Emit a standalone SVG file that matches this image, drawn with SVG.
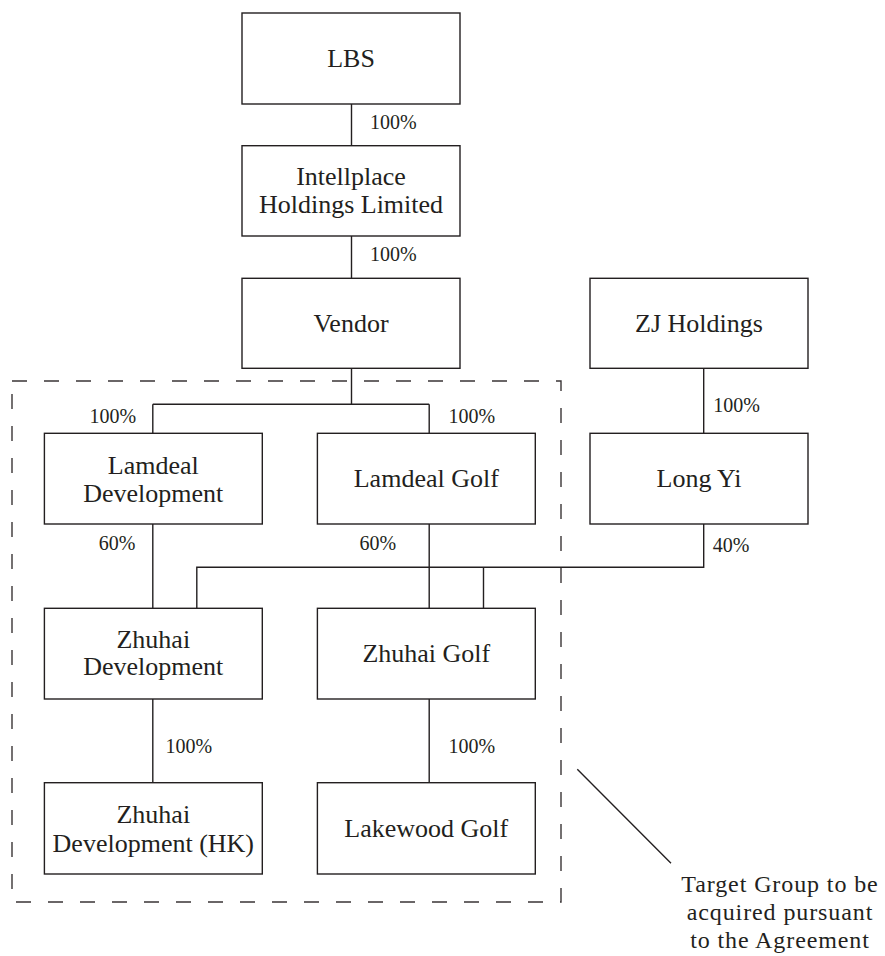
<svg xmlns="http://www.w3.org/2000/svg" width="885" height="956" viewBox="0 0 885 956">
<style>
.box{fill:#fff;stroke:#231f20;stroke-width:1.4}
.n{font-family:"Liberation Serif","Times New Roman",serif;font-size:26px;fill:#231f20;text-anchor:middle}
.t{font-family:"Liberation Serif","Times New Roman",serif;font-size:24px;letter-spacing:0.9px;fill:#231f20;text-anchor:middle}
.p{font-family:"Liberation Serif","Times New Roman",serif;font-size:20px;fill:#231f20}
.c{fill:none;stroke:#231f20;stroke-width:1.4}
.dash{fill:none;stroke:#3a3536;stroke-width:1.4;stroke-dasharray:15 17}
</style>
<rect width="885" height="956" fill="#fff"/>
<g id="target-boundary">
<rect class="dash" x="12" y="381" width="549" height="521"/>
</g>
<g id="connectors">
<path class="c" d="M351.5 104V145.7M351.5 236V278.3M351.5 368.3V404.3M152.8 404.3H429.2M152.8 404.3V433.3M429.2 404.3V433.3M152.8 524V608.3M429.2 524V608.3M703.7 368.3V433.3M703.7 524V567.3H196.8V608.3M483.5 567.3V608.3M152.8 699V782.7M429.2 699V782.7M577.3 769.3L671 863.3"/>
</g>
<g id="labels">
<text class="p" x="370" y="129">100%</text>
<text class="p" x="370" y="261">100%</text>
<text class="p" x="89.5" y="423.3">100%</text>
<text class="p" x="448.4" y="423.3">100%</text>
<text class="p" x="713.3" y="412">100%</text>
<text class="p" x="98.8" y="550">60%</text>
<text class="p" x="359.6" y="550">60%</text>
<text class="p" x="712.7" y="551.7">40%</text>
<text class="p" x="165.4" y="753.3">100%</text>
<text class="p" x="448.4" y="753.3">100%</text>
</g>
<g id="lbs"><rect class="box" x="242" y="13" width="218" height="91"/><text class="n" x="351" y="67">LBS</text></g>
<g id="intellplace"><rect class="box" x="242" y="145.7" width="218" height="90.3"/><text class="n" x="351" y="185">Intellplace</text><text class="n" x="351" y="213">Holdings Limited</text></g>
<g id="vendor"><rect class="box" x="242" y="278.3" width="218" height="90"/><text class="n" x="351" y="331.7">Vendor</text></g>
<g id="zj-holdings"><rect class="box" x="590" y="278.3" width="218" height="90"/><text class="n" x="699" y="331.7">ZJ Holdings</text></g>
<g id="lamdeal-development"><rect class="box" x="44.4" y="433.3" width="217.9" height="90.7"/><text class="n" x="153.3" y="473.5">Lamdeal</text><text class="n" x="153.3" y="501.7">Development</text></g>
<g id="lamdeal-golf"><rect class="box" x="317.4" y="433.3" width="217.9" height="90.7"/><text class="n" x="426.3" y="487">Lamdeal Golf</text></g>
<g id="long-yi"><rect class="box" x="590" y="433.3" width="218" height="90.7"/><text class="n" x="699" y="487.3">Long Yi</text></g>
<g id="zhuhai-development"><rect class="box" x="44.4" y="608.3" width="217.9" height="90.7"/><text class="n" x="153.3" y="648.3">Zhuhai</text><text class="n" x="153.3" y="675">Development</text></g>
<g id="zhuhai-golf"><rect class="box" x="317.4" y="608.3" width="217.9" height="90.7"/><text class="n" x="426.3" y="661.7">Zhuhai Golf</text></g>
<g id="zhuhai-development-hk"><rect class="box" x="44.4" y="782.7" width="217.9" height="91.3"/><text class="n" x="153.3" y="823.3">Zhuhai</text><text class="n" x="153.3" y="851.7">Development (HK)</text></g>
<g id="lakewood-golf"><rect class="box" x="317.4" y="782.7" width="217.9" height="91.3"/><text class="n" x="426.3" y="836.7">Lakewood Golf</text></g>
<g id="note"><text class="t" x="780" y="892">Target Group to be</text><text class="t" x="780" y="920">acquired pursuant</text><text class="t" x="780" y="948">to the Agreement</text></g>
</svg>
